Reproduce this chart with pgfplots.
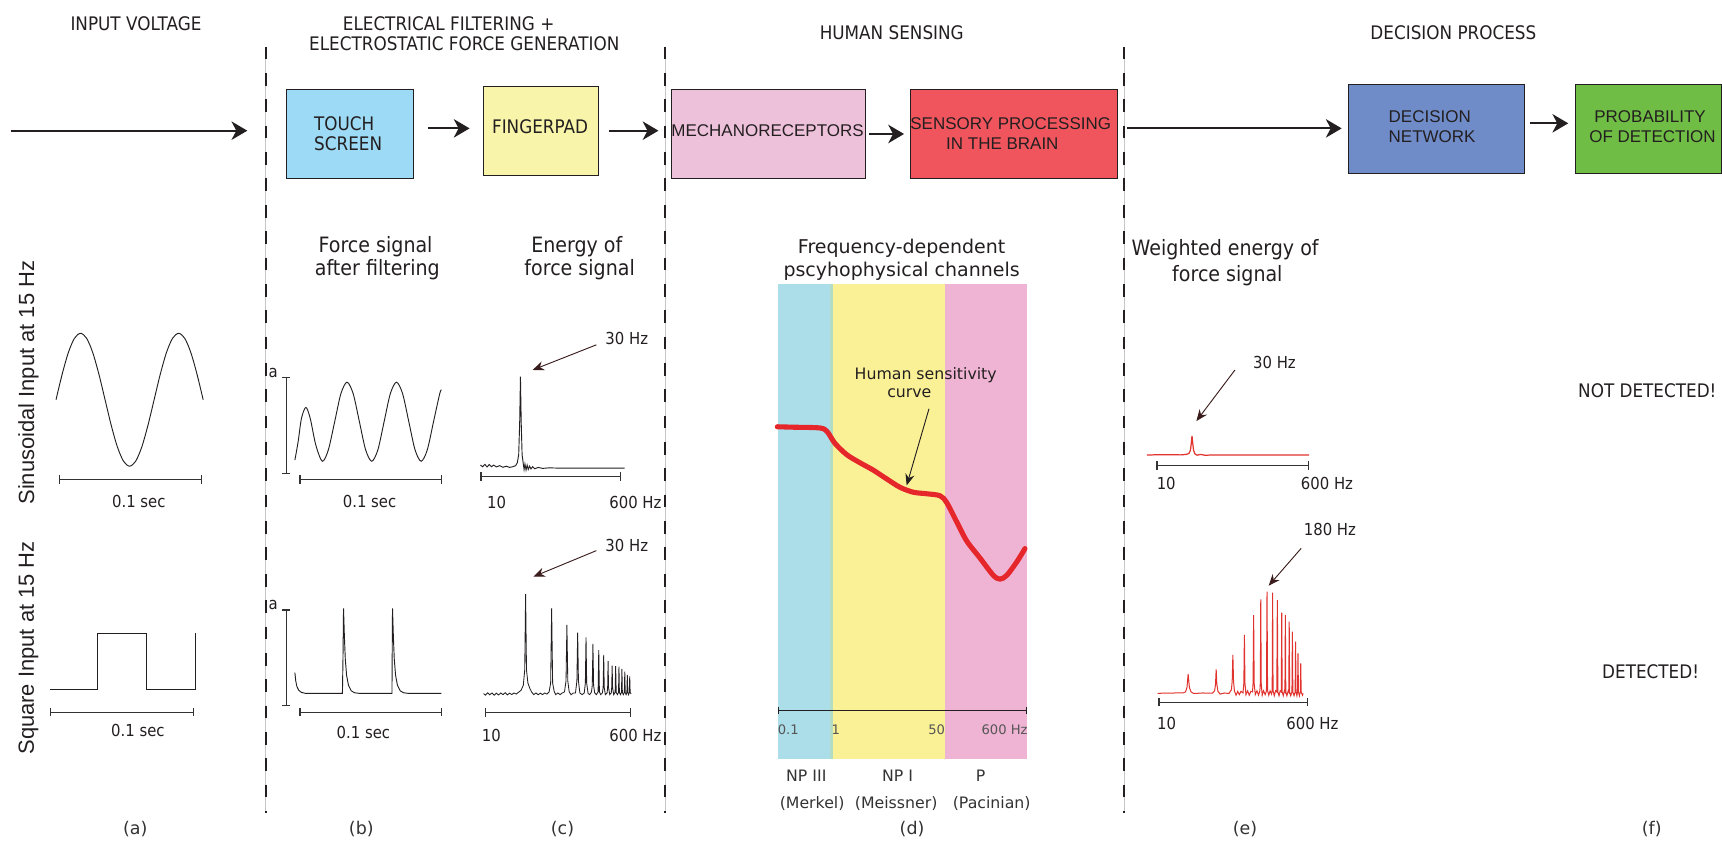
\documentclass[border=0pt]{standalone}
\usepackage{pgfplots}
\pgfplotsset{compat=1.18}
\usepackage{fontspec}
\setmainfont{DejaVu Sans}
\newfontfamily\tah[FakeStretch=0.9]{DejaVu Sans}
\newfontfamily\ver{DejaVu Sans}
\newfontfamily\ari{Liberation Sans}
\usetikzlibrary{arrows.meta}
\definecolor{txt}{HTML}{231F20}
\definecolor{cTouch}{HTML}{9DDAF5}
\definecolor{cFinger}{HTML}{F8F5AA}
\definecolor{cMech}{HTML}{EEC1DB}
\definecolor{cSens}{HTML}{F0555D}
\definecolor{cDec}{HTML}{6F8BC8}
\definecolor{cProb}{HTML}{6FBD44}
\definecolor{dBlue}{HTML}{ACDEEA}
\definecolor{dGreen}{HTML}{B2DCC6}
\definecolor{dYellow}{HTML}{FAF196}
\definecolor{dPink}{HTML}{EFB4D3}
\definecolor{dRed}{HTML}{E5262B}
\definecolor{eRed}{HTML}{E0332E}
\definecolor{brn}{HTML}{3B1C1C}
\definecolor{gry}{HTML}{333333}
\definecolor{tickg}{HTML}{555555}
\tikzset{
  hdr/.style={font=\tah\fontsize{12.1}{14}\selectfont, text=txt, inner sep=0pt},
  boxt/.style={font=\ari\fontsize{11}{13}\selectfont, text=txt, inner sep=0pt},
  ttl/.style={font=\tah\fontsize{13.7}{16}\selectfont, text=txt, inner sep=0pt, anchor=base},
  sml/.style={font=\tah\fontsize{10.7}{12}\selectfont, text=txt, inner sep=0pt},
  dlab/.style={font=\ver\fontsize{10.2}{12}\selectfont, text=gry, inner sep=0pt, anchor=base},
  dtick/.style={font=\ver\fontsize{8.5}{10}\selectfont, text=tickg, inner sep=0pt, anchor=base},
  plab/.style={font=\ver\fontsize{11.3}{13}\selectfont, text=gry, inner sep=0pt},
  rot/.style={font=\ari\fontsize{14.2}{17}\selectfont, text=txt, inner sep=0pt, rotate=90},
  bigarrow/.style={draw=txt, line width=1.3pt, -{Stealth[length=3.6mm,width=4.2mm,inset=1.1mm]}},
  annot/.style={draw=brn, line width=0.6pt, -{Stealth[length=2.6mm,width=2.1mm]}},
  sbar/.style={draw=gry, line width=0.8pt, {Bar[width=1.9mm]}-{Bar[width=1.9mm]}},
  box/.style={draw=txt, line width=0.5pt},
}
\newcommand{\divider}[1]{%
  \draw[gray!45, line width=0.3pt] (axis cs:#1,42.5) -- (axis cs:#1,740);
  \draw[txt, line width=1.4pt, dash pattern=on 2.9mm off 3.1mm] (axis cs:#1,42.5) -- (axis cs:#1,740);}
\begin{document}
\begin{tikzpicture}
\begin{axis}[scale only axis, width=392mm, height=192.25mm,
  xmin=0, xmax=1568, ymin=0, ymax=769, y dir=reverse,
  hide axis, clip=false, no markers, at={(0,0)}, anchor=south west]

% ---------- section headers ----------
\node[hdr] at (axis cs:123.8,21.2) {INPUT VOLTAGE};
\node[hdr] at (axis cs:408.5,21.2) {ELECTRICAL FILTERING +};
\node[hdr] at (axis cs:422.8,39.5) {ELECTROSTATIC FORCE GENERATION};
\node[hdr] at (axis cs:812,29.4) {HUMAN SENSING};
\node[hdr] at (axis cs:1323.4,29.4) {DECISION PROCESS};

% ---------- dividers ----------
\divider{241.9}
\divider{605.4}
\divider{1023.4}

% ---------- flow boxes ----------
\draw[box, fill=cTouch] (axis cs:261,81.3) rectangle (axis cs:376,162.4);
\node[hdr, anchor=west] at (axis cs:285.8,112.3) {TOUCH};
\node[hdr, anchor=west] at (axis cs:285.8,130.5) {SCREEN};
\draw[box, fill=cFinger] (axis cs:440.2,78.9) rectangle (axis cs:544.7,159.4);
\node[hdr] at (axis cs:491.8,115.6) {FINGERPAD};
\draw[box, fill=cMech] (axis cs:611.6,81.3) rectangle (axis cs:788.3,162.4);
\node[boxt] at (axis cs:698.9,119.4) {MECHANORECEPTORS};
\draw[box, fill=cSens] (axis cs:829,81.3) rectangle (axis cs:1017.4,162.4);
\node[boxt] at (axis cs:920.3,112.6) {SENSORY PROCESSING};
\node[boxt] at (axis cs:912.7,130.5) {IN THE BRAIN};
\draw[box, fill=cDec] (axis cs:1227.8,76.5) rectangle (axis cs:1387.8,157.8);
\node[boxt, anchor=west] at (axis cs:1264.2,105.9) {DECISION};
\node[boxt, anchor=west] at (axis cs:1264.2,124.7) {NETWORK};
\draw[box, fill=cProb] (axis cs:1434.8,76.5) rectangle (axis cs:1567.5,157.8);
\node[boxt] at (axis cs:1502.5,105.9) {PROBABILITY};
\node[boxt] at (axis cs:1504.7,124.7) {OF DETECTION};

% ---------- flow arrows ----------
\draw[bigarrow] (axis cs:9.7,119) -- (axis cs:225.2,119);
\draw[bigarrow] (axis cs:389.4,116.9) -- (axis cs:427.6,116.9);
\draw[bigarrow] (axis cs:554.8,119) -- (axis cs:599.6,119);
\draw[bigarrow] (axis cs:791.6,122) -- (axis cs:823.2,122);
\draw[bigarrow] (axis cs:1026.4,116.9) -- (axis cs:1221.7,116.9);
\draw[bigarrow] (axis cs:1393.2,112.3) -- (axis cs:1428,112.3);

% ---------- row labels ----------
\node[rot] at (axis cs:26,348.4) {Sinusoidal Input at 15 Hz};
\node[rot] at (axis cs:26,590) {Square Input at 15 Hz};

% ---------- titles ----------
\node[ttl] at (axis cs:342,230.1) {Force signal};
\node[ttl] at (axis cs:343.6,251.3) {after filtering};
\node[ttl] at (axis cs:525.2,230.1) {Energy of};
\node[ttl] at (axis cs:527.8,251.3) {force signal};
\node[font=\ver\fontsize{12.3}{14}\selectfont, text=txt, inner sep=0pt, anchor=base] at (axis cs:821,230.5) {Frequency-dependent};
\node[font=\ver\fontsize{12.3}{14}\selectfont, text=txt, inner sep=0pt, anchor=base] at (axis cs:821,252) {pscyhophysical channels};
\node[ttl] at (axis cs:1115.6,232.2) {Weighted energy of};
\node[ttl] at (axis cs:1117.6,256.5) {force signal};

% ---------- (a) input voltage ----------
\addplot[txt, line width=0.6pt, smooth] coordinates {
(51,364) (56.58,340.85) (62.17,321.22) (67.75,308.1) (73.33,303.5) (78.92,308.1)
(84.5,321.22) (90.08,340.85) (95.67,364) (101.25,387.15) (106.83,406.78) (112.42,419.9)
(118,424.5) (123.58,419.9) (129.17,406.78) (134.75,387.15) (140.33,364) (145.92,340.85)
(151.5,321.22) (157.08,308.1) (162.67,303.5) (168.25,308.1) (173.83,321.22) (179.42,340.85) (185,364)};
\draw[sbar] (axis cs:53.3,436.5) -- (axis cs:183.7,436.5);
\node[sml] at (axis cs:126.4,456.8) {0.1 sec};

\addplot[txt, line width=0.6pt] coordinates {
(45.4,627.7) (88.9,627.7) (88.9,576.7) (133.5,576.7) (133.5,627.7) (177.7,627.7) (177.7,576.7)};
\draw[sbar] (axis cs:45.4,648.6) -- (axis cs:176.9,648.6);
\node[sml] at (axis cs:125.6,664.7) {0.1 sec};

% ---------- (b) force signal ----------
\node[sml] at (axis cs:248.8,339.3) {a};
\draw[sbar] (axis cs:260.6,343) -- (axis cs:260.6,431.6);
\addplot[txt, line width=0.6pt, smooth] coordinates {
(268.5,419) (271.5,402) (274.5,381) (278.5,371) (282.5,381) (287.5,405) (293.5,420)
(299,409.5) (304.75,384) (310.4,358.5) (316,348) (321.6,358.5) (327.25,384) (332.9,409.5)
(338.5,420) (344.1,409.5) (349.75,384) (355.4,358.5) (361,348) (366.6,358.5) (372.25,384)
(377.9,409.5) (383.5,420) (389.1,409.5) (394.75,384) (400.4,358.5) (402,355)};
\draw[sbar] (axis cs:272.5,436.5) -- (axis cs:402.8,436.5);
\node[sml] at (axis cs:336.5,456.8) {0.1 sec};

\node[sml] at (axis cs:248.8,550.9) {a};
\draw[sbar] (axis cs:260.6,554.8) -- (axis cs:260.6,642.8);
\addplot[txt, line width=0.6pt] coordinates {
(268.5,612.5) (269.3,620) (270.3,625) (272,628.5) (274.5,630.5) (278,631.3)
(311.8,631.3) (312.3,600) (312.8,553.9) (313.6,580) (314.4,600) (315.6,615) (317.3,624)
(319.8,629) (322.8,630.8) (326.8,631.3)
(356.9,631.3) (357.1,600) (357.4,553.9) (358.2,580) (359,600) (360.2,615) (361.9,624)
(364.4,629) (367.4,630.8) (371.4,631.3) (402,631.3)};
\draw[sbar] (axis cs:272.5,648.6) -- (axis cs:402.8,648.6);
\node[sml] at (axis cs:330.9,667.2) {0.1 sec};

% ---------- (c) energy ----------
\addplot[txt, line width=0.6pt] coordinates {
(437.5,423.5) (439.5,425) (441.5,422.8) (443.5,425.2) (445.5,423) (447.5,425) (449.5,423.5)
(452,425.2) (455,424) (458,425.5) (461,424.5) (464,425.6) (467,425) (469.5,424) (471,421.5)
(472.3,414) (473.2,385) (473.9,343) (474.6,385) (475.4,414) (476.3,421) (477.2,427.5)
(478,422.5) (479,428) (480,423.5) (481,427.5) (482.2,424.5) (483.5,427) (485,425)
(487,426.8) (490,425.6) (494,426.5) (500,426) (510,426.3) (530,426.2) (568.7,426.3)};
\draw[sbar] (axis cs:437.5,434) -- (axis cs:565.5,434);
\node[sml] at (axis cs:452.2,457.7) {10};
\node[sml] at (axis cs:578.6,457.7) {600 Hz};
\node[sml] at (axis cs:570.7,308.1) {30 Hz};
\draw[annot] (axis cs:543,314) -- (axis cs:485,336.9);

\addplot[txt, line width=0.55pt] coordinates {
(440.3,631.5) (442,633) (444,630.8) (446,632.6) (448,631) (450,633) (452,631.2) (454,632.8)
(456,631) (458,632.5) (460,630.8) (462,632.7) (464,631.2) (466,632.4) (468,631) (470,632)
(472,630.5) (474.5,628.5) (476.5,624) (477.8,610) (478.6,540.9) (479.4,610) (480.7,622)
(482.5,627) (484,630) (486,632.5) (488,631) (490,632.6) (492,631.2) (494,632.5) (496,631)
(498,632) (500,630) (501.4,622) (502.3,553.9) (503.2,622) (504.6,629.5) (506,632.5)
(508,631) (510,632.5) (512,631) (514,630) (515.4,620) (516.2,569.1) (517,620) (518.3,630)
(520,632.6) (522,631) (524,631) (525.3,620) (526,576.1) (526.7,620) (528,631) (530,632.5)
(532,631) (533,622) (533.6,580.3) (534.2,622) (535.5,631.5) (537,632.5) (538.6,630)
(539.3,624) (539.9,586.4) (540.5,624) (541.5,631) (543,632.5) (544.6,630) (545.2,591.9)
(545.8,630) (547,632.5) (548.5,631) (549.2,626) (549.7,596.4) (550.2,626) (551.2,632.5)
(552.8,631) (553.3,626) (553.7,602) (554.1,626) (555.2,632.5) (556.6,631) (557,626)
(557.4,606) (557.8,626) (558.8,632.5) (560.1,630.5) (560.6,606.5) (561.1,630.5)
(562.2,632.5) (563.2,630.5) (563.6,607) (564,630.5) (565,632.5) (565.9,630.5) (566.3,609)
(566.7,630.5) (567.6,632.5) (568.5,630.5) (568.9,611.5) (569.3,630.5) (570.1,632.5)
(570.8,630.5) (571.2,614.5) (571.6,630.5) (572.3,632.5) (573,630.5) (573.4,616)
(573.8,630.5) (574.6,632)};
\draw[sbar] (axis cs:441.5,648.9) -- (axis cs:574.6,648.9);
\node[sml] at (axis cs:447.5,669.3) {10};
\node[sml] at (axis cs:578.6,669.3) {600 Hz};
\node[sml] at (axis cs:570.7,496.3) {30 Hz};
\draw[annot] (axis cs:543,501.4) -- (axis cs:485.7,525.1);

% ---------- (d) channels ----------
\addplot[fill=dBlue, draw=none] coordinates {(708.7,259) (756,259) (756,691.1) (708.7,691.1)};
\addplot[fill=dGreen, draw=none] coordinates {(755.5,259) (758.6,259) (758.6,691.1) (755.5,691.1)};
\addplot[fill=dYellow, draw=none] coordinates {(758.2,259) (860.5,259) (860.5,691.1) (758.2,691.1)};
\addplot[fill=dPink, draw=none] coordinates {(860.5,259) (935.5,259) (935.5,691.1) (860.5,691.1)};
\addplot[dRed, line width=3.3pt, smooth, line cap=round] coordinates {
(707.8,388.6) (722.4,389.0) (746.7,389.7) (753.3,393.2) (760.3,403.7) (771.0,414.0)
(783.1,421.4) (795.2,428.1) (807.4,436.1) (819.5,443.7) (831.6,448.2) (843.8,449.6)
(855.9,451.4) (862.0,457.6) (871.1,475.1) (880.2,492.5) (892.4,508.2) (904.5,523.9)
(910.6,527.3) (916.7,523.9) (925.8,511.7) (933.3,499.5)};
\node[font=\ver\fontsize{10.2}{12}\selectfont, text=txt, inner sep=0pt, anchor=base] at (axis cs:842.9,345.4) {Human sensitivity};
\node[font=\ver\fontsize{10.2}{12}\selectfont, text=txt, inner sep=0pt, anchor=base] at (axis cs:828,361.8) {curve};
\draw[draw=txt, line width=0.6pt, -{Stealth[length=2.6mm,width=2.1mm]}] (axis cs:845.9,372.2) -- (axis cs:825.6,442);
\draw[draw=txt, line width=0.7pt, {Bar[width=1.6mm]}-{Bar[width=1.6mm]}] (axis cs:708.7,646.9) -- (axis cs:935.5,646.9);
\node[dtick] at (axis cs:717.8,668.5) {0.1};
\node[dtick] at (axis cs:761,668.5) {1};
\node[dtick] at (axis cs:852.9,668.5) {50};
\node[dtick] at (axis cs:914.7,668.5) {600 Hz};
\node[dlab] at (axis cs:734.2,712) {NP III};
\node[dlab] at (axis cs:817.3,712) {NP I};
\node[dlab] at (axis cs:893,712) {P};
\node[dlab] at (axis cs:739.5,736.4) {(Merkel)};
\node[dlab] at (axis cs:816,736.4) {(Meissner)};
\node[dlab] at (axis cs:903,736.4) {(Pacinian)};

% ---------- (e) weighted energy ----------
\addplot[eRed, line width=0.8pt] coordinates {
(1044.3,414.3) (1060,414) (1075,414.2) (1080,413.8) (1082.5,413) (1084,410) (1084.8,403)
(1085.4,397) (1086,403) (1086.8,410) (1088,413.2) (1090,414.5) (1093,413.8) (1097,414.5)
(1110,414.2) (1192,414.3)};
\draw[sbar] (axis cs:1052.9,424) -- (axis cs:1192,424);
\node[sml] at (axis cs:1061.9,440.1) {10};
\node[sml] at (axis cs:1208.3,440.1) {600 Hz};
\node[sml] at (axis cs:1160.5,330.2) {30 Hz};
\draw[annot] (axis cs:1124.5,336.9) -- (axis cs:1089.4,383.4);

\addplot[eRed, line width=0.65pt] coordinates {
(1054,631.3) (1070,631) (1077,631) (1079.5,630) (1080.8,626) (1081.9,613.7) (1083,626)
(1084.5,630) (1087,631.5) (1095,631) (1104,631.2) (1106,629) (1106.8,623) (1107.4,609.5)
(1108,623) (1109,629.5) (1111,632) (1115,631) (1119,631.5) (1121.3,628) (1122,620)
(1122.6,596.4) (1123.2,620) (1124,629) (1125.5,633) (1127,629.5) (1128.5,632.5) (1130,629.5)
(1131.8,631) (1132.6,622) (1133.1,578.2) (1133.6,622) (1134.5,632.5) (1136,629) (1137.5,633)
(1139,629.5) (1140.5,630) (1141,622) (1141.5,560) (1142,622) (1143,632.5) (1144.5,629)
(1146,633) (1147.2,629) (1147.6,622) (1148,545.7) (1148.4,622) (1149.3,633) (1150.5,629)
(1152,632.5) (1153.2,629) (1153.7,538.8) (1154.2,629) (1155.3,633) (1156.5,629) (1157.8,632)
(1158.4,629) (1158.8,539.7) (1159.2,629) (1160.3,633.5) (1161.5,629) (1162.6,630)
(1163.1,546.4) (1163.6,630) (1164.6,633.5) (1165.7,629) (1166.7,630) (1167.1,557.9)
(1167.5,630) (1168.5,633.5) (1169.5,629) (1170,630) (1170.4,560) (1170.8,630) (1171.8,633.5)
(1173,629) (1173.5,630) (1173.9,566.1) (1174.3,630) (1175.3,633.5) (1176.4,630) (1176.8,575.2)
(1177.2,630) (1178.3,633.5) (1179.3,630) (1179.7,584.3) (1180.1,630) (1180.9,633.5)
(1181.5,630) (1181.9,594.9) (1182.3,630) (1183.2,633.5) (1184,630) (1184.4,604) (1184.8,630)
(1186,633) (1186.6,631.5)};
\draw[sbar] (axis cs:1054.7,639.5) -- (axis cs:1191.3,639.5);
\node[sml] at (axis cs:1062.3,658.7) {10};
\node[sml] at (axis cs:1195,658.7) {600 Hz};
\node[sml] at (axis cs:1211,482) {180 Hz};
\draw[annot] (axis cs:1184.8,499.3) -- (axis cs:1155.2,533.3);

% ---------- (f) decision ----------
\node[hdr] at (axis cs:1500,356) {NOT DETECTED!};
\node[hdr] at (axis cs:1503,611.6) {DETECTED!};

% ---------- panel letters ----------
\node[plab] at (axis cs:123.2,755) {(a)};
\node[plab] at (axis cs:329,755) {(b)};
\node[plab] at (axis cs:512.2,755) {(c)};
\node[plab] at (axis cs:830.5,755) {(d)};
\node[plab] at (axis cs:1133.7,755) {(e)};
\node[plab] at (axis cs:1504,755) {(f)};
\end{axis}
\pgfresetboundingbox
\path[use as bounding box] (0,0) rectangle (392mm,192.25mm);
\end{tikzpicture}
\end{document}
